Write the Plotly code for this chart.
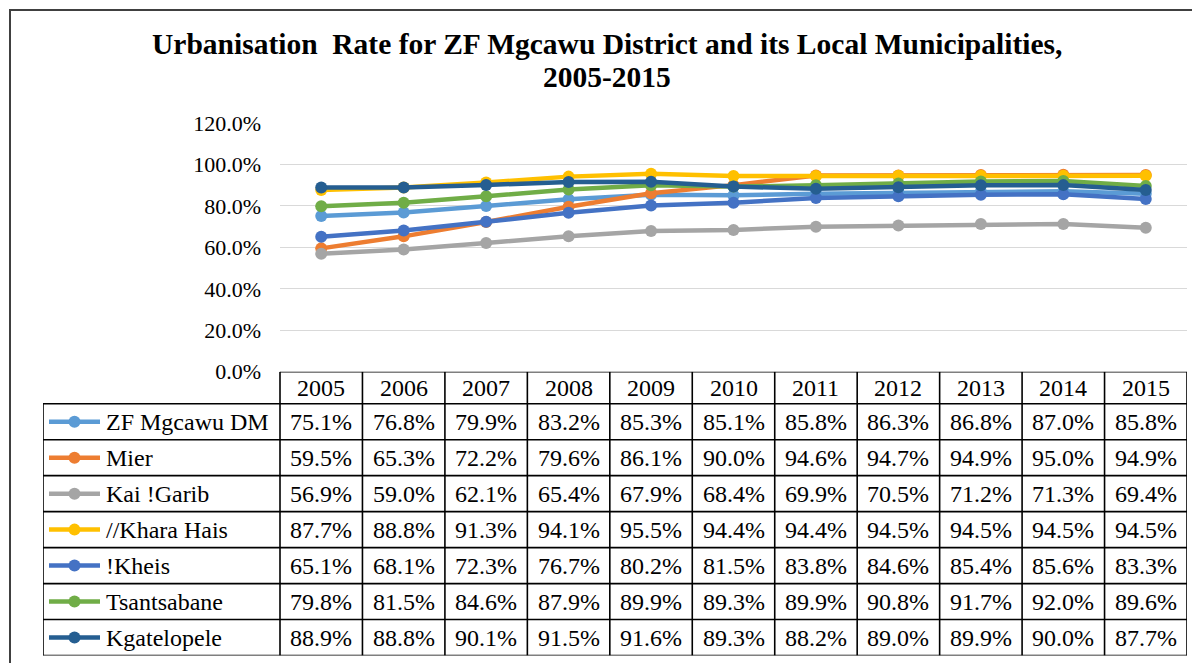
import plotly.graph_objects as go

W, H = 1200, 663

years = ["2005", "2006", "2007", "2008", "2009", "2010", "2011", "2012", "2013", "2014", "2015"]
series_names = ["ZF Mgcawu DM", "Mier", "Kai !Garib", "//Khara Hais", "!Kheis", "Tsantsabane", "Kgatelopele"]
zf_mgcawu = [75.1, 76.8, 79.9, 83.2, 85.3, 85.1, 85.8, 86.3, 86.8, 87.0, 85.8]
mier = [59.5, 65.3, 72.2, 79.6, 86.1, 90.0, 94.6, 94.7, 94.9, 95.0, 94.9]
kai_garib = [56.9, 59.0, 62.1, 65.4, 67.9, 68.4, 69.9, 70.5, 71.2, 71.3, 69.4]
khara_hais = [87.7, 88.8, 91.3, 94.1, 95.5, 94.4, 94.4, 94.5, 94.5, 94.5, 94.5]
kheis = [65.1, 68.1, 72.3, 76.7, 80.2, 81.5, 83.8, 84.6, 85.4, 85.6, 83.3]
tsantsabane = [79.8, 81.5, 84.6, 87.9, 89.9, 89.3, 89.9, 90.8, 91.7, 92.0, 89.6]
kgatelopele = [88.9, 88.8, 90.1, 91.5, 91.6, 89.3, 88.2, 89.0, 89.9, 90.0, 87.7]
y_ticks = [0, 20, 40, 60, 80, 100, 120]
title_lines = ["Urbanisation  Rate for ZF Mgcawu District and its Local Municipalities,", "2005-2015"]

series_values = [zf_mgcawu, mier, kai_garib, khara_hais, kheis, tsantsabane, kgatelopele]
colors = ["#5B9BD5", "#ED7D31", "#A5A5A5", "#FFC000", "#4472C4", "#70AD47", "#255E91"]

FONT = "Liberation Serif"

# correction for observed placement in the photographed page
DX, DY, SY = 8.0, 20.0, 0.963

def px_x(p):
    return (p - DX) / W

def px_y(p):
    return 1 - ((p - DY) / SY) / H

plot_left, plot_right = 280, 1187
plot_top, plot_bottom = 123, 372
table_left = 43
table_bottom = 656
col_w = (plot_right - plot_left) / len(years)
header_h = 32
nrows = len(series_names)
row_h = (table_bottom - plot_bottom - header_h) / nrows

n = len(years)
xi = list(range(n))
x_lo, x_hi = -0.5, n - 0.5
x2_lo = x_lo - (plot_left - table_left) / col_w
header_units = header_h / row_h

fig = go.Figure()

for name, vals, c in zip(series_names, series_values, colors):
    fig.add_trace(go.Scatter(
        x=xi, y=vals, mode="lines+markers", name=name,
        line=dict(color=c, width=4.5), marker=dict(color=c, size=12),
        xaxis="x", yaxis="y", showlegend=False, hoverinfo="skip"))

# legend keys inside the table
key_x0 = x2_lo + 6 / col_w
key_x1 = x2_lo + 57 / col_w
key_xm = (key_x0 + key_x1) / 2
for i, (name, c) in enumerate(zip(series_names, colors)):
    fig.add_trace(go.Scatter(
        x=[key_x0, key_x1], y=[i + 0.5, i + 0.5], mode="lines",
        line=dict(color=c, width=4.5), xaxis="x2", yaxis="y2",
        showlegend=False, hoverinfo="skip"))
    fig.add_trace(go.Scatter(
        x=[key_xm], y=[i + 0.5], mode="markers",
        marker=dict(color=c, size=12), xaxis="x2", yaxis="y2",
        showlegend=False, hoverinfo="skip"))

shapes = []
# outer frame
shapes.append(dict(type="rect", xref="paper", yref="paper",
                   x0=px_x(10), x1=1.05, y0=-0.05, y1=px_y(10),
                   line=dict(color="#404040", width=2), layer="below"))
# table grid
lw = 1.6
lc = "black"
shapes.append(dict(type="line", xref="x2", yref="y2", x0=x_lo, x1=x_hi,
                   y0=-header_units, y1=-header_units, line=dict(color=lc, width=lw)))
for r in range(nrows + 1):
    shapes.append(dict(type="line", xref="x2", yref="y2", x0=x2_lo, x1=x_hi,
                       y0=r, y1=r, line=dict(color=lc, width=lw)))
shapes.append(dict(type="line", xref="x2", yref="y2", x0=x2_lo, x1=x2_lo,
                   y0=0, y1=nrows, line=dict(color=lc, width=lw)))
for k in range(n + 1):
    xv = x_lo + k
    shapes.append(dict(type="line", xref="x2", yref="y2", x0=xv, x1=xv,
                       y0=-header_units, y1=nrows, line=dict(color=lc, width=lw)))

annotations = []
TS = 24
for j, yr in enumerate(years):
    annotations.append(dict(xref="x2", yref="y2", x=j, y=-header_units / 2, text=yr,
                            showarrow=False, font=dict(family=FONT, size=TS, color="black"),
                            xanchor="center", yanchor="middle"))
for i, (name, vals) in enumerate(zip(series_names, series_values)):
    annotations.append(dict(xref="x2", yref="y2", x=x2_lo + 61 / col_w, y=i + 0.5, text=name,
                            showarrow=False, font=dict(family=FONT, size=TS, color="black"),
                            xanchor="left", yanchor="middle"))
    for j, v in enumerate(vals):
        annotations.append(dict(xref="x2", yref="y2", x=j, y=i + 0.5, text=f"{v:.1f}%",
                                showarrow=False, font=dict(family=FONT, size=TS, color="black"),
                                xanchor="center", yanchor="middle"))

# title (two lines)
for line_text, ly in zip(title_lines, [44, 77]):
    annotations.append(dict(xref="paper", yref="paper", x=px_x(607), y=px_y(ly),
                            text=f"<b>{line_text}</b>",
                            showarrow=False, font=dict(family=FONT, size=29.5, color="black"),
                            xanchor="center", yanchor="middle", align="center"))

fig.update_layout(
    width=W, height=H,
    margin=dict(l=0, r=0, t=0, b=0),
    paper_bgcolor="white", plot_bgcolor="rgba(0,0,0,0)",
    xaxis=dict(domain=[px_x(plot_left), px_x(plot_right)], range=[x_lo, x_hi],
               showgrid=False, zeroline=False, showticklabels=False, showline=False,
               fixedrange=True),
    yaxis=dict(domain=[px_y(plot_bottom), px_y(plot_top)], range=[0, 120],
               tickvals=y_ticks, ticktext=[f"{t:.1f}%" for t in y_ticks],
               showgrid=True, gridcolor="#D9D9D9", gridwidth=1.3, zeroline=False,
               showline=False, ticks="", ticklabelstandoff=18,
               tickfont=dict(family=FONT, size=22, color="black"), fixedrange=True),
    xaxis2=dict(domain=[px_x(table_left), px_x(plot_right)], range=[x2_lo, x_hi],
                showgrid=False, zeroline=False, showticklabels=False, showline=False,
                anchor="y2", fixedrange=True),
    yaxis2=dict(domain=[px_y(table_bottom), px_y(plot_bottom)],
                range=[nrows, -header_units],
                showgrid=False, zeroline=False, showticklabels=False, showline=False,
                anchor="x2", fixedrange=True),
    shapes=shapes,
    annotations=annotations,
)

fig.write_html("out.html")
